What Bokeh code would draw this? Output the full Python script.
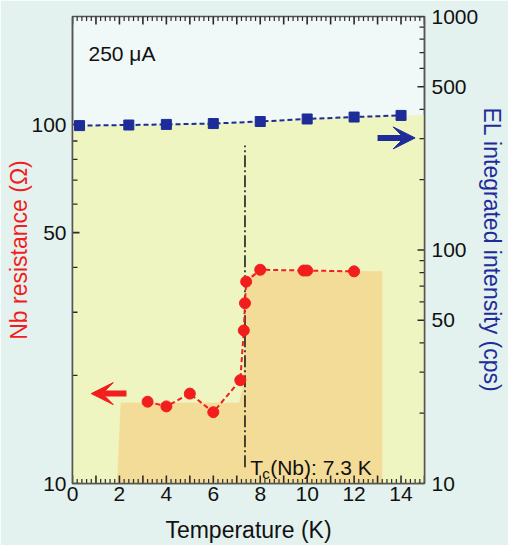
from bokeh.plotting import figure
from bokeh.models import (Range1d, LogScale, LogAxis, FixedTicker,
                          Arrow, VeeHead, Label)
from bokeh.embed import file_html
from bokeh.resources import INLINE

# ---------------- data ----------------
nb_temp = [3.2, 4.0, 5.0, 6.0, 7.15, 7.3, 7.35, 7.4, 8.0, 9.85, 10.0, 12.0]
nb_res = [16.9, 16.4, 17.8, 15.8, 19.4, 26.7, 31.8, 36.5, 39.4, 39.2, 39.2, 39.0]

el_temp = [0.3, 2.4, 4.0, 6.0, 8.0, 10.0, 12.0, 14.0]
el_int = [341, 343, 345, 348, 355, 364, 371, 377]

# shaded backdrops
el_band_temp = [0.0, 0.3, 2.4, 4.0, 6.0, 8.0, 10.0, 12.0, 14.0, 15.0]
el_band_top = [340, 341, 343, 345, 348, 355, 364, 371, 377, 379]
nb_band_temp = [1.9, 2.05, 7.1, 7.25, 7.35, 7.42, 7.6, 7.9, 13.2, 13.2]
nb_band_res = [10, 16.8, 16.8, 18.5, 25, 35, 38.3, 39.0, 39.0, 10]

tc_temp = 7.35
tc_line_res = [11.1, 87.4]

# ticks
x_major = list(range(0, 16))
x_minor = [round(i * 0.2, 1) for i in range(76)]
x_labels = {i: (str(i) if i % 2 == 0 else "") for i in x_major}
left_major = [10, 50, 100]
left_minor = [20, 30, 40, 60, 70, 80, 90]
right_major = [10, 50, 100, 500, 1000]
right_minor = [20, 30, 40, 60, 70, 80, 90, 200, 300, 400, 600, 700, 800, 900]

X0, X1 = 0, 15
YL0, YL1 = 10, 200
YR0, YR1 = 10, 1000

RED = "#f21d1d"
BLUE = "#1d2c98"
FONT = "Liberation Sans"
TICK = "#2a2a2a"

p = figure(width=508, height=545, x_range=Range1d(X0, X1), y_range=Range1d(YL0, YL1),
           y_axis_type="log", output_backend="svg", toolbar_location=None,
           min_border_left=72, min_border_right=84, min_border_top=16, min_border_bottom=62)
p.border_fill_color = "#e3f2ee"
p.background_fill_color = "#f0f9f7"
p.outline_line_color = "#555555"
p.outline_line_width = 1.5
p.xgrid.visible = False
p.ygrid.visible = False

p.extra_y_ranges = {"el": Range1d(YR0, YR1)}
p.extra_y_scales = {"el": LogScale()}

# shading
p.varea(x=el_band_temp, y1=[YR0] * len(el_band_temp), y2=el_band_top,
        fill_color="#eff5c0", y_range_name="el")
p.patch(nb_band_temp, nb_band_res, fill_color="#f3dc98", line_color=None)

# inward ticks: thin screen-sized rectangles centred on the frame edges
# (the outer half is clipped by the frame)
minor_x = [t for t in x_minor if t not in x_major]
for yv in (YL0, YL1):
    p.rect(x=x_major, y=[yv] * len(x_major), width=1.6, height=16, width_units="screen",
           height_units="screen", fill_color=TICK, line_color=None)
    p.rect(x=minor_x, y=[yv] * len(minor_x), width=1.2, height=9, width_units="screen",
           height_units="screen", fill_color=TICK, line_color=None)
p.rect(x=[X0] * len(left_major), y=left_major, width=14, height=1.6, width_units="screen",
       height_units="screen", fill_color=TICK, line_color=None)
p.rect(x=[X0] * len(left_minor), y=left_minor, width=10, height=1.3, width_units="screen",
       height_units="screen", fill_color=TICK, line_color=None)
p.rect(x=[X1] * len(right_major), y=right_major, width=14, height=1.6, width_units="screen",
       height_units="screen", fill_color=TICK, line_color=None, y_range_name="el")
p.rect(x=[X1] * len(right_minor), y=right_minor, width=10, height=1.3, width_units="screen",
       height_units="screen", fill_color=TICK, line_color=None, y_range_name="el")

# Tc line
p.line([tc_temp, tc_temp], tc_line_res, line_color="black", line_width=1.4,
       line_dash="12 3 2 3")

# series
p.line(el_temp, el_int, line_color=BLUE, line_width=2, line_dash="5 3", y_range_name="el")
p.scatter(el_temp, el_int, marker="square", size=10, fill_color=BLUE, line_color=BLUE,
          y_range_name="el")
p.line(nb_temp, nb_res, line_color=RED, line_width=2, line_dash="5 3")
p.scatter(nb_temp, nb_res, marker="circle", size=11, fill_color=RED, line_color=RED)

# arrows
p.add_layout(Arrow(end=VeeHead(size=22, fill_color=RED, line_color=RED, line_width=1),
                   x_start=2.3, y_start=17.8, x_end=0.8, y_end=17.8,
                   line_color=RED, line_width=6))
p.add_layout(Arrow(end=VeeHead(size=22, fill_color=BLUE, line_color=BLUE, line_width=1),
                   x_start=13.0, y_start=302, x_end=14.6, y_end=302,
                   line_color=BLUE, line_width=6, y_range_name="el"))

# texts
p.add_layout(Label(x=0.68, y=158, text="250 μA", text_font=FONT, text_font_size="21px",
                   text_color="#111111", text_baseline="alphabetic"))
p.add_layout(Label(x=7.57, y=11.08, text="T", text_font=FONT, text_font_size="21px",
                   text_color="#111111", text_baseline="alphabetic"))
p.add_layout(Label(x=7.57, y=11.08, x_offset=12, y_offset=-6, text="c", text_font=FONT,
                   text_font_size="15px", text_color="#111111", text_baseline="alphabetic"))
p.add_layout(Label(x=7.57, y=11.08, x_offset=20, text="(Nb): 7.3 K", text_font=FONT,
                   text_font_size="21px", text_color="#111111", text_baseline="alphabetic"))


def style(ax):
    ax.axis_line_color = "#555555"
    ax.axis_line_width = 1.5
    ax.major_tick_in = 0
    ax.major_tick_out = 0
    ax.minor_tick_in = 0
    ax.minor_tick_out = 0
    ax.major_label_text_font = FONT
    ax.major_label_text_font_size = "21px"
    ax.major_label_text_color = "#111111"
    ax.axis_label_text_font = FONT
    ax.axis_label_text_font_size = "23px"
    ax.axis_label_text_font_style = "normal"


# bottom axis
xb = p.xaxis[0]
xb.ticker = FixedTicker(ticks=x_major, minor_ticks=x_minor)
xb.major_label_overrides = x_labels
xb.axis_label = "Temperature (K)"
style(xb)
xb.major_label_standoff = 3
xb.axis_label_standoff = 13
xb.axis_label_text_color = "#111111"

# left axis
yl = p.yaxis[0]
yl.ticker = FixedTicker(ticks=left_major, minor_ticks=left_minor)
yl.axis_label = "Nb resistance (Ω)"
style(yl)
yl.major_label_standoff = 6
yl.axis_label_standoff = -4
yl.axis_label_text_color = RED

# right axis
yr = LogAxis(y_range_name="el", ticker=FixedTicker(ticks=right_major, minor_ticks=right_minor),
             axis_label="EL integrated intensity (cps)")
style(yr)
yr.major_label_standoff = 7
yr.axis_label_standoff = -2
yr.axis_label_text_color = BLUE
p.add_layout(yr, "right")

open("out.html", "w").write(file_html(p, INLINE))
